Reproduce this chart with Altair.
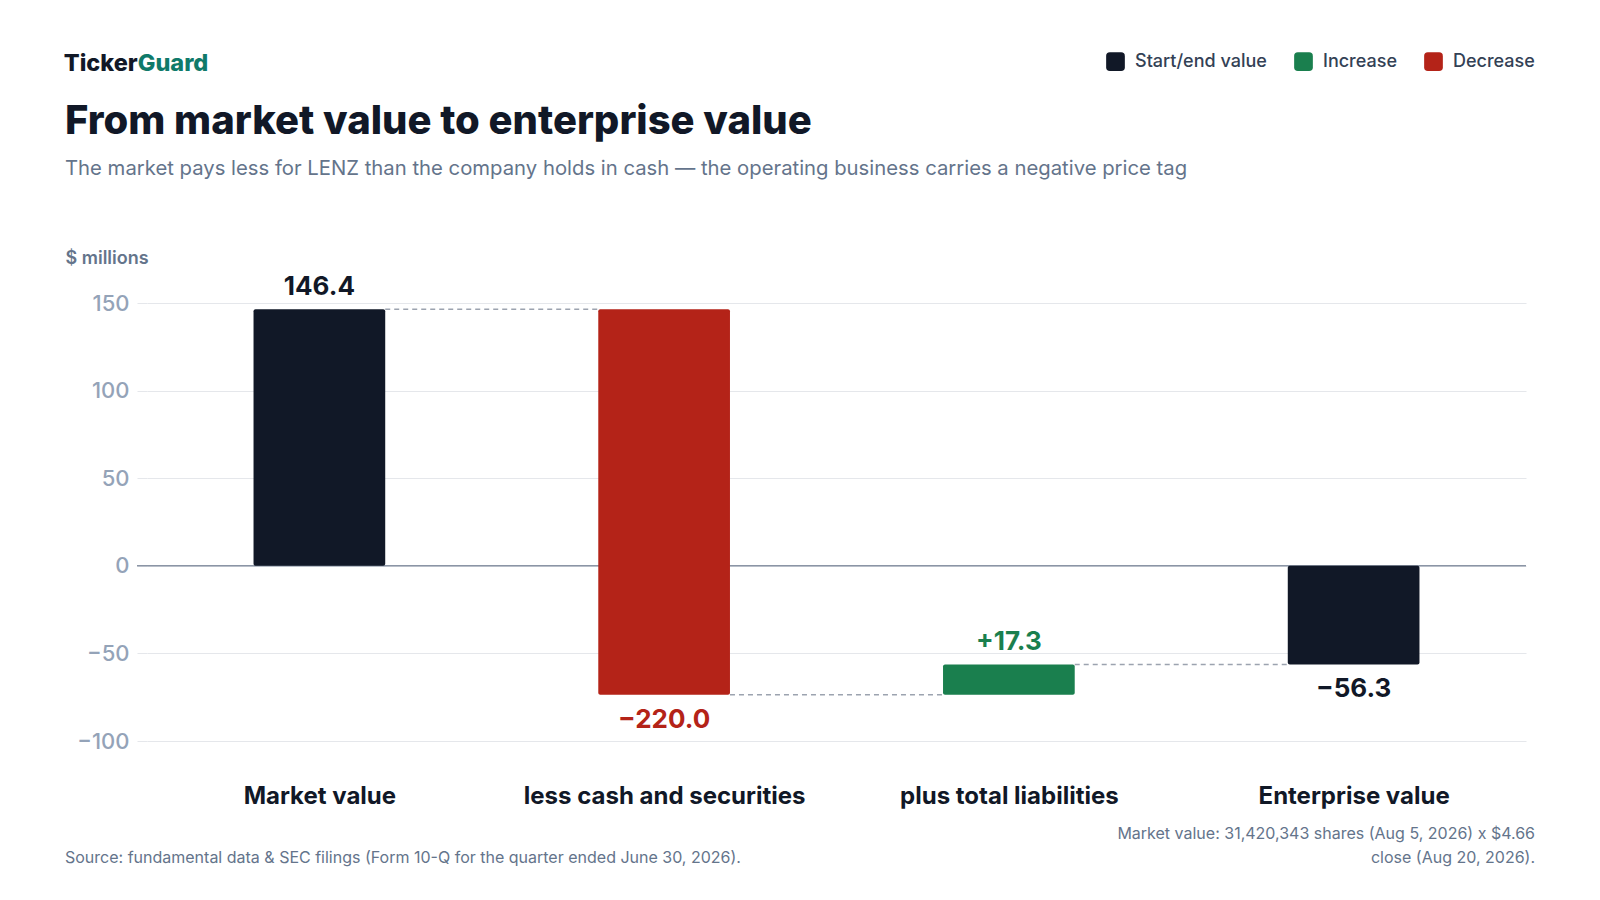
import altair as alt
import pandas as pd

# waterfall steps, $ millions
categories = ["Market value", "less cash and securities", "plus total liabilities", "Enterprise value"]
step_values = [146.4, -220.0, 17.3, -56.3]
step_kinds = ["total", "change", "change", "total"]

legend_labels = ["Start/end value", "Increase", "Decrease"]
legend_colors = ["#111827", "#1a7f4e", "#b42318"]

y_ticks = [-100, -50, 0, 50, 100, 150]

title_text = "From market value to enterprise value"
subtitle_text = ("The market pays less for LENZ than the company holds in cash \u2014 "
                 "the operating business carries a negative price tag")
source_text = "Source: fundamental data & SEC filings (Form 10-Q for the quarter ended June 30, 2026)."
note_text = "Market value: 31,420,343 shares (Aug 5, 2026) x $4.66\nclose (Aug 20, 2026)."

MINUS = "\u2212"
BAR_HALF = 0.191
W, H = 1379, 438
FONT = "Inter"


def fmt(v, signed):
    s = f"{abs(v):.1f}"
    if v < 0:
        return MINUS + s
    return ("+" + s) if signed else s


rows = []
running = 0.0
for i, (cat, v, kind) in enumerate(zip(categories, step_values, step_kinds)):
    if kind == "total":
        start, end = 0.0, v
        group = "Start/end value"
    else:
        start, end = running, running + v
        group = "Increase" if v > 0 else "Decrease"
    running = end
    rows.append({
        "cat": cat, "idx": i, "x_lo": i - BAR_HALF, "x_hi": i + BAR_HALF,
        "lo": min(start, end), "hi": max(start, end), "end": end,
        "group": group, "label": fmt(v, kind == "change"),
        "up": v > 0, "label_y": max(start, end) if v > 0 else min(start, end),
    })
df = pd.DataFrame(rows)

links = pd.DataFrame({
    "x_lo": [r["idx"] + BAR_HALF for r in rows[:-1]],
    "x_hi": [r["idx"] + 1 - BAR_HALF for r in rows[:-1]],
    "lo": [r["end"] for r in rows[:-1]],
})

xs = alt.Scale(domain=[-0.5, len(categories) - 0.5], nice=False, zero=False)
ys = alt.Scale(domain=[-100, 150], nice=False, zero=False)
cs = alt.Scale(domain=legend_labels, range=legend_colors)

cat_expr = "[" + ",".join(f"'{c}'" for c in categories) + "][datum.value]"

x_axis = alt.Axis(values=list(range(len(categories))), labelExpr=cat_expr, domain=False,
                  ticks=False, tickSize=0, grid=False, title=None, labelFontSize=24,
                  labelFontWeight=700, labelColor="#111827", labelPadding=43,
                  labelFlush=False, labelOverlap=False, labelLimit=600, labelFont=FONT)
y_axis = alt.Axis(values=y_ticks, labelExpr=f"replace(datum.label, '-', '{MINUS}')",
                  domain=False, tickSize=10, tickColor="#e5e7eb", gridColor="#e5e7eb",
                  labelFontSize=22, labelFontWeight=500, labelColor="#94a3b8",
                  labelPadding=8, labelFont=FONT,
                  title="$ millions", titleAngle=0, titleX=-82, titleY=-45,
                  titleAlign="left", titleBaseline="middle", titleFontSize=18,
                  titleColor="#64748b", titleFontWeight=600, titleFont=FONT)

rounded = ("M-0.6,-1L0.6,-1Q1,-1 1,-0.6L1,0.6Q1,1 0.6,1L-0.6,1"
           "Q-1,1 -1,0.6L-1,-0.6Q-1,-1 -0.6,-1Z")

zero = alt.Chart(pd.DataFrame({"lo": [0]})).mark_rule(color="#8b95a5", strokeWidth=1.5).encode(
    y=alt.Y("lo:Q", scale=ys), x=alt.value(-10), x2=alt.value(W))

connectors = alt.Chart(links).mark_rule(strokeDash=[5, 4], color="#9ca3af", strokeWidth=1.5).encode(
    x=alt.X("x_lo:Q", scale=xs), x2="x_hi:Q",
    y=alt.Y("lo:Q", scale=ys))

bars = alt.Chart(df).mark_bar(cornerRadius=2).encode(
    x=alt.X("x_lo:Q", scale=xs, axis=x_axis),
    x2="x_hi:Q",
    y=alt.Y("lo:Q", scale=ys, axis=y_axis),
    y2="hi:Q",
    color=alt.Color("group:N", scale=cs, legend=alt.Legend(
        title=None, orient="none", legendX=959, legendY=-251, direction="horizontal",
        symbolType=rounded, symbolSize=350, symbolStrokeWidth=0, symbolOpacity=1,
        labelFontSize=18, labelFont=FONT, labelFontWeight=500, labelColor="#334155",
        labelOffset=10, columnPadding=27, padding=0, labelLimit=300)),
)


def value_labels(up, dy):
    return alt.Chart(df).transform_filter(f"datum.up == {str(up).lower()}").mark_text(
        fontSize=26, fontWeight=700, font=FONT, baseline="middle", dy=dy).encode(
        x=alt.X("idx:Q", scale=xs),
        y=alt.Y("label_y:Q", scale=ys),
        text="label:N",
        color=alt.Color("group:N", scale=cs, legend=None))


def note(text, x, y, size, color, weight=400, align="left"):
    return alt.Chart(pd.DataFrame({"t": [text]})).mark_text(
        font=FONT, fontSize=size, fontWeight=weight, color=color, align=align,
        baseline="alphabetic", lineBreak="\n", lineHeight=24).encode(
        text="t:N", x=alt.value(x), y=alt.value(y))


header = [
    note("Ticker", -9.3, -232, 23.5, "#111827", 800, "right"),
    note("Guard", -9.3, -232, 23.5, "#0f7a6a", 800),
    note(title_text, -82, -169, 40, "#111827", 800),
    note(subtitle_text, -82, -128, 20.3, "#64748b"),
    note(source_text, -82, 560, 16, "#64748b"),
    note(note_text, 1388, 536, 16, "#64748b", 400, "right"),
]

chart = alt.layer(
    zero, connectors, bars, value_labels(True, -22), value_labels(False, 25), *header
).properties(
    width=W, height=H,
    autosize=alt.AutoSizeParams(type="none"),
    padding={"left": 139, "top": 295, "right": 66, "bottom": 140},
    background="white",
).configure(font=FONT, view=alt.ViewConfig(stroke=None))

chart.save("out.html", embed_options={"renderer": "svg", "actions": False})
